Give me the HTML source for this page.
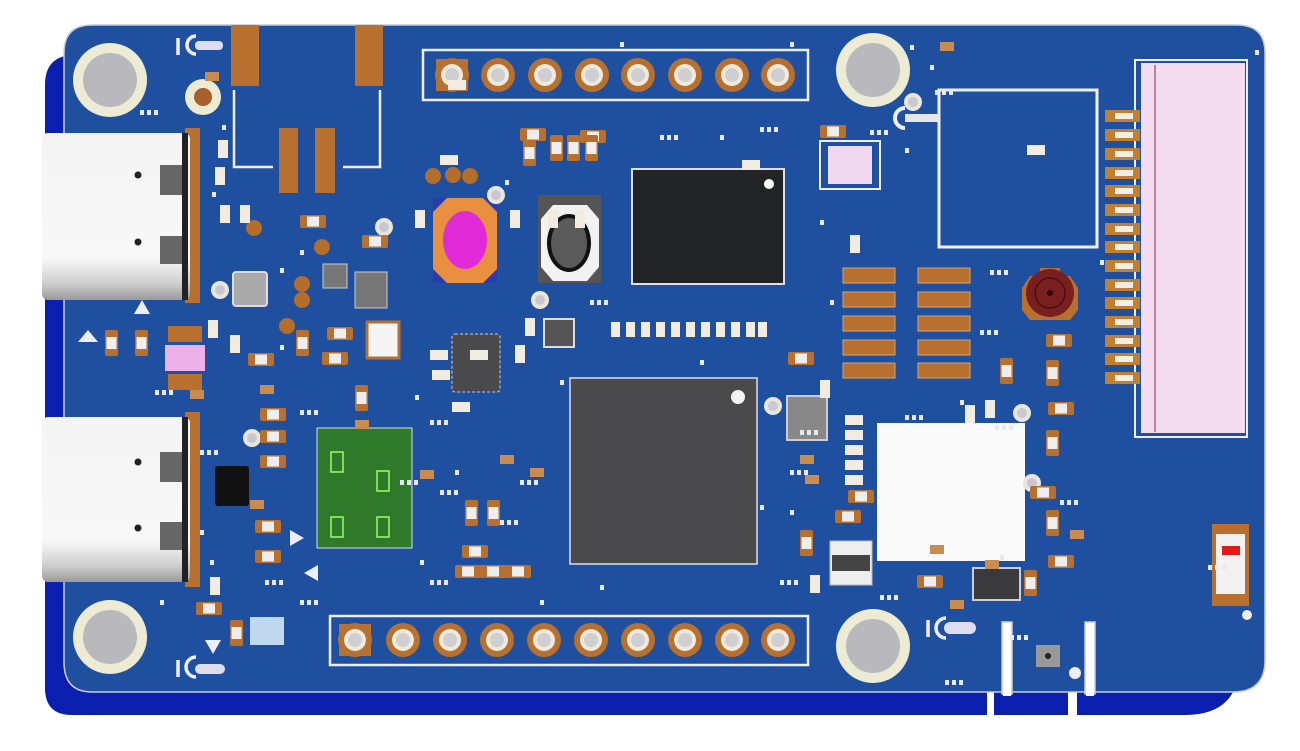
<!DOCTYPE html>
<html><head><meta charset="utf-8"><style>html,body{margin:0;padding:0;background:#fff;width:1300px;height:751px;overflow:hidden}</style></head>
<body>
<svg width="1300" height="751" viewBox="0 0 1300 751" xmlns="http://www.w3.org/2000/svg">
<defs>
<g id="r"><rect x="0" y="0" width="26" height="13" rx="2" fill="#b8702e"/><rect x="7" y="1.5" width="12" height="10" fill="#eee"/></g>
<g id="rv"><rect x="0" y="0" width="13" height="26" rx="2" fill="#b8702e"/><rect x="1.5" y="7" width="10" height="12" fill="#eee"/></g>
<g id="c"><rect x="0" y="0" width="10" height="18" fill="#f1ebe0"/></g>
<g id="ch"><rect x="0" y="0" width="18" height="10" fill="#f1ebe0"/></g>
<g id="b"><rect x="0" y="0" width="14" height="9" fill="#c98b4e"/></g>
<g id="d"><rect x="0" y="0" width="4" height="5" fill="#e8e8f0"/></g>
<g id="dd"><rect x="0" y="0" width="4" height="5" fill="#e8e8f0"/><rect x="7" y="0" width="4" height="5" fill="#e8e8f0"/><rect x="14" y="0" width="4" height="5" fill="#e8e8f0"/></g>
<g id="via"><circle cx="0" cy="0" r="9" fill="#e9e6dc"/><circle cx="0" cy="0" r="5" fill="#c8c8d0"/></g>
<g id="bv"><circle cx="0" cy="0" r="8" fill="#b56d2a"/></g>
<g id="pin"><circle cx="0" cy="0" r="17" fill="#b8702e"/><circle cx="0" cy="0" r="11" fill="#efeadc"/><circle cx="0" cy="0" r="7" fill="#cfcfd2"/></g>
<g id="hole"><circle cx="0" cy="0" r="37" fill="#eeebd4"/><circle cx="0" cy="0" r="27" fill="#b9b9bd"/></g>
<linearGradient id="usb" x1="0" y1="0" x2="0" y2="1"><stop offset="0" stop-color="#f4f4f4"/><stop offset="0.75" stop-color="#f8f8f8"/><stop offset="0.9" stop-color="#cfcfcf"/><stop offset="1" stop-color="#9a9a9a"/></linearGradient>
</defs>

<!-- shadow -->
<path d="M75 55 H1240 V660 Q1240 715 1185 715 H72 Q45 715 45 688 V85 Q45 55 75 55 Z" fill="#0a1fb0"/>
<rect x="987" y="690" width="7" height="30" fill="#fff"/>
<rect x="1068" y="690" width="9" height="30" fill="#fff"/>
<!-- board -->
<path d="M92 25 H1237 Q1265 25 1265 53 V660 Q1265 692 1233 692 H92 Q64 692 64 662 V53 Q64 25 92 25 Z" fill="#1f50a0" stroke="#c9ccd6" stroke-width="1.5"/>
<rect x="1002" y="622" width="10" height="72" fill="#fff" stroke="#c9ccd6" stroke-width="1.5"/>
<rect x="1085" y="622" width="10" height="72" fill="#fff" stroke="#c9ccd6" stroke-width="1.5"/>
<rect x="1003" y="692" width="8" height="4" fill="#fff"/>
<rect x="1086" y="692" width="8" height="4" fill="#fff"/>

<!-- mount holes -->
<use href="#hole" x="110" y="80"/>
<use href="#hole" x="873" y="70"/>
<use href="#hole" x="110" y="637"/>
<use href="#hole" x="873" y="646"/>
<circle cx="203" cy="97" r="18" fill="#eeebd4"/><circle cx="203" cy="97" r="9" fill="#a8602a"/>

<!-- antenna -->
<rect x="231" y="25" width="28" height="61" fill="#b8702e"/>
<rect x="355" y="25" width="28" height="61" fill="#b8702e"/>
<rect x="279" y="128" width="19" height="65" fill="#b8702e"/>
<rect x="315" y="128" width="20" height="65" fill="#b8702e"/>
<path d="M234 90 V167 H273 M380 90 V167 H343" fill="none" stroke="#eef" stroke-width="2.5"/>

<!-- USB C -->
<rect x="185" y="128" width="15" height="175" fill="#b8702e"/>
<rect x="42" y="133" width="148" height="167" rx="6" fill="url(#usb)"/>
<rect x="182" y="133" width="6" height="167" fill="#222"/>
<rect x="160" y="165" width="22" height="30" fill="#666"/><rect x="160" y="236" width="22" height="28" fill="#666"/>
<circle cx="138" cy="175" r="3.5" fill="#222"/><circle cx="138" cy="242" r="3.5" fill="#222"/>
<rect x="185" y="412" width="15" height="175" fill="#b8702e"/>
<rect x="42" y="417" width="148" height="165" rx="6" fill="url(#usb)"/>
<rect x="182" y="417" width="6" height="165" fill="#222"/>
<rect x="160" y="452" width="22" height="30" fill="#666"/><rect x="160" y="522" width="22" height="28" fill="#666"/>
<circle cx="138" cy="462" r="3.5" fill="#222"/><circle cx="138" cy="528" r="3.5" fill="#222"/>

<!-- headers -->
<rect x="423" y="50" width="385" height="50" fill="none" stroke="#eef" stroke-width="2.5"/>
<rect x="436" y="59" width="32" height="32" fill="#b8702e"/>
<use href="#pin" x="452" y="75"/><use href="#pin" x="498" y="75"/><use href="#pin" x="545" y="75"/><use href="#pin" x="592" y="75"/><use href="#pin" x="638" y="75"/><use href="#pin" x="685" y="75"/><use href="#pin" x="732" y="75"/><use href="#pin" x="778" y="75"/>
<rect x="330" y="616" width="478" height="49" fill="none" stroke="#eef" stroke-width="2.5"/>
<rect x="339" y="624" width="32" height="32" fill="#b8702e"/>
<use href="#pin" x="355" y="640"/><use href="#pin" x="403" y="640"/><use href="#pin" x="450" y="640"/><use href="#pin" x="497" y="640"/><use href="#pin" x="544" y="640"/><use href="#pin" x="591" y="640"/><use href="#pin" x="638" y="640"/><use href="#pin" x="685" y="640"/><use href="#pin" x="732" y="640"/><use href="#pin" x="778" y="640"/>

<!-- chips -->
<rect x="632" y="169" width="152" height="115" fill="#232425" stroke="#dde" stroke-width="2"/>
<circle cx="769" cy="184" r="5" fill="#fff"/>
<rect x="570" y="378" width="187" height="186" fill="#4a4a4c" stroke="#dde" stroke-width="1.5"/>
<circle cx="738" cy="397" r="7" fill="#f4f4f4"/>
<rect x="939" y="90" width="158" height="157" fill="#1f50a0" stroke="#eef" stroke-width="3"/>
<path d="M940 118 H905" stroke="#e6e6ea" stroke-width="8"/>
<path d="M905 108 a10 10 0 0 0 0 20" fill="none" stroke="#eef" stroke-width="4"/>
<rect x="877" y="423" width="148" height="138" fill="#fafafa"/>
<rect x="317" y="428" width="95" height="120" fill="#2f7a2a" stroke="#dde" stroke-width="1"/>
<rect x="331" y="452" width="12" height="20" fill="none" stroke="#9f6" stroke-width="1.5"/>
<rect x="377" y="471" width="12" height="20" fill="none" stroke="#9f6" stroke-width="1.5"/>
<rect x="331" y="517" width="12" height="20" fill="none" stroke="#9f6" stroke-width="1.5"/>
<rect x="377" y="517" width="12" height="20" fill="none" stroke="#9f6" stroke-width="1.5"/>
<rect x="452" y="334" width="48" height="58" rx="3" fill="#4a4a4c" stroke="#ccd" stroke-width="1" stroke-dasharray="3 2"/>
<rect x="215" y="466" width="34" height="40" rx="3" fill="#111"/>
<rect x="544" y="319" width="30" height="28" fill="#555" stroke="#ddd" stroke-width="2"/>
<rect x="787" y="396" width="40" height="44" fill="#888" stroke="#ccd" stroke-width="2"/>
<rect x="973" y="568" width="47" height="32" fill="#3a3a3c" stroke="#ccd" stroke-width="2"/>
<rect x="830" y="541" width="42" height="44" fill="#eee" stroke="#bbb" stroke-width="1"/><rect x="832" y="555" width="38" height="16" fill="#444"/>

<!-- buttons -->
<rect x="433" y="198" width="64" height="85" fill="#e99040"/>
<path d="M433 198 h14 l-14 14z M497 198 h-14 l14 14z M433 283 h14 l-14 -14z M497 283 h-14 l14 -14z" fill="#2a3ab0"/>
<ellipse cx="465" cy="240" rx="22" ry="29" fill="#e02ad8"/>
<rect x="538" y="195" width="63" height="88" fill="#555"/>
<path d="M553 205 h34 l12 14 v48 l-12 14 h-34 l-12 -14 v-48z" fill="#f2f2f2"/>
<ellipse cx="569" cy="243" rx="22" ry="29" fill="#111"/><ellipse cx="569" cy="243" rx="18" ry="25" fill="#5a5a5a"/>

<!-- pads rows -->
<g fill="#f1ebe0"><rect x="611" y="322" width="9" height="15"/><rect x="626" y="322" width="9" height="15"/><rect x="641" y="322" width="9" height="15"/><rect x="656" y="322" width="9" height="15"/><rect x="671" y="322" width="9" height="15"/><rect x="686" y="322" width="9" height="15"/><rect x="701" y="322" width="9" height="15"/><rect x="716" y="322" width="9" height="15"/><rect x="731" y="322" width="9" height="15"/><rect x="746" y="322" width="9" height="15"/><rect x="758" y="322" width="9" height="15"/></g>
<g fill="#b8702e" stroke="#d9a46c" stroke-width="1"><rect x="843" y="268" width="52" height="15"/><rect x="843" y="292" width="52" height="15"/><rect x="843" y="316" width="52" height="15"/><rect x="843" y="340" width="52" height="15"/><rect x="843" y="363" width="52" height="15"/>
<rect x="918" y="268" width="52" height="15"/><rect x="918" y="292" width="52" height="15"/><rect x="918" y="316" width="52" height="15"/><rect x="918" y="340" width="52" height="15"/><rect x="918" y="363" width="52" height="15"/></g>

<!-- pink small chips -->
<rect x="820" y="141" width="60" height="48" fill="#1f50a0" stroke="#eef" stroke-width="2"/><rect x="828" y="146" width="44" height="38" fill="#f0d8f0"/>
<rect x="165" y="345" width="40" height="26" fill="#eeb0e8"/>
<rect x="168" y="326" width="34" height="16" fill="#b8702e"/><rect x="168" y="374" width="34" height="16" fill="#b8702e"/>
<rect x="250" y="617" width="34" height="28" fill="#c0d8ee"/>

<!-- antenna connector -->
<path d="M1040 268 h20 v8 h10 l8 12 v22 l-8 10 h-40 l-8 -10 v-22 l8 -12 h10z" fill="#b8702e"/>
<circle cx="1050" cy="293" r="24" fill="#7a1f1f"/><circle cx="1050" cy="293" r="15" fill="none" stroke="#4a0f0f" stroke-width="1.5"/><circle cx="1050" cy="293" r="3" fill="#300"/>

<!-- FPC -->
<rect x="1135" y="60" width="112" height="377" fill="#1f50a0" stroke="#eef" stroke-width="2"/>
<rect x="1141" y="63" width="104" height="370" fill="#f3dcf0"/>
<path d="M1155 65 V432" stroke="#7a2a5a" stroke-width="1"/>
<g fill="#c08030"><rect x="1105" y="110" width="35" height="12"/><rect x="1105" y="129" width="35" height="12"/><rect x="1105" y="148" width="35" height="12"/><rect x="1105" y="167" width="35" height="12"/><rect x="1105" y="185" width="35" height="12"/><rect x="1105" y="204" width="35" height="12"/><rect x="1105" y="223" width="35" height="12"/><rect x="1105" y="241" width="35" height="12"/><rect x="1105" y="260" width="35" height="12"/><rect x="1105" y="279" width="35" height="12"/><rect x="1105" y="297" width="35" height="12"/><rect x="1105" y="316" width="35" height="12"/><rect x="1105" y="335" width="35" height="12"/><rect x="1105" y="353" width="35" height="12"/><rect x="1105" y="372" width="35" height="12"/></g>
<g fill="#f2eee6"><rect x="1115" y="113" width="18" height="6"/><rect x="1115" y="132" width="18" height="6"/><rect x="1115" y="151" width="18" height="6"/><rect x="1115" y="170" width="18" height="6"/><rect x="1115" y="188" width="18" height="6"/><rect x="1115" y="207" width="18" height="6"/><rect x="1115" y="226" width="18" height="6"/><rect x="1115" y="244" width="18" height="6"/><rect x="1115" y="263" width="18" height="6"/><rect x="1115" y="282" width="18" height="6"/><rect x="1115" y="300" width="18" height="6"/><rect x="1115" y="319" width="18" height="6"/><rect x="1115" y="338" width="18" height="6"/><rect x="1115" y="356" width="18" height="6"/><rect x="1115" y="375" width="18" height="6"/></g>

<!-- LED bottom right -->
<rect x="1212" y="524" width="37" height="82" fill="#b8702e"/>
<rect x="1216" y="534" width="29" height="60" fill="#f2f2f2"/>
<rect x="1222" y="546" width="18" height="9" fill="#e21a1a"/>
<circle cx="1247" cy="615" r="5" fill="#eee"/>
<rect x="1036" y="645" width="24" height="22" fill="#999"/><circle cx="1048" cy="656" r="3" fill="#222"/>
<circle cx="1075" cy="673" r="6" fill="#eee"/>

<!-- logos -->
<path d="M178 38 v17 M196 36 a9 9 0 0 0 0 18" fill="none" stroke="#eef" stroke-width="3.5"/><rect x="195" y="41" width="28" height="9" rx="4" fill="#dde"/>
<path d="M178 660 v17 M196 657 a9 9 0 0 0 0 20" fill="none" stroke="#eef" stroke-width="3.5"/><rect x="195" y="664" width="30" height="10" rx="5" fill="#dde"/>
<path d="M928 620 v17 M946 618 a10 10 0 0 0 0 20" fill="none" stroke="#eef" stroke-width="3.5"/><rect x="944" y="622" width="32" height="12" rx="6" fill="#dde"/>
<path d="M142 300 l-8 14 h16z M290 530 l14 8 -14 8z M318 565 l-14 8 14 8z M88 330 l-10 12 h20z M205 640 l8 14 8-14z" fill="#eef"/>

<!-- misc components -->
<rect x="233" y="272" width="34" height="34" rx="3" fill="#aaa" stroke="#ddd" stroke-width="2"/>
<rect x="323" y="264" width="24" height="24" fill="#777" stroke="#ccc"/>
<rect x="355" y="272" width="32" height="36" fill="#777" stroke="#ccc"/>
<rect x="367" y="322" width="32" height="36" fill="#f5f5f5" stroke="#b8702e" stroke-width="3"/>
<use href="#bv" x="254" y="228"/><use href="#bv" x="322" y="247"/><use href="#bv" x="302" y="284"/><use href="#bv" x="302" y="300"/><use href="#bv" x="287" y="326"/><use href="#bv" x="433" y="176"/><use href="#bv" x="453" y="175"/><use href="#bv" x="470" y="176"/>
<use href="#via" x="220" y="290"/><use href="#via" x="384" y="227"/><use href="#via" x="496" y="195"/><use href="#via" x="540" y="300"/><use href="#via" x="773" y="406"/><use href="#via" x="1022" y="413"/><use href="#via" x="1032" y="483"/><use href="#via" x="913" y="102"/><use href="#via" x="252" y="438"/>
<use href="#r" x="300" y="215"/><use href="#r" x="362" y="235"/><use href="#r" x="248" y="353"/><use href="#r" x="322" y="352"/><use href="#r" x="327" y="327"/><use href="#r" x="260" y="408"/><use href="#r" x="260" y="430"/><use href="#r" x="260" y="455"/><use href="#r" x="255" y="520"/><use href="#r" x="255" y="550"/><use href="#r" x="462" y="545"/><use href="#r" x="455" y="565"/><use href="#r" x="480" y="565"/><use href="#r" x="505" y="565"/><use href="#r" x="520" y="128"/><use href="#r" x="580" y="130"/><use href="#r" x="848" y="490"/><use href="#r" x="835" y="510"/><use href="#r" x="788" y="352"/><use href="#r" x="917" y="575"/><use href="#r" x="1046" y="334"/><use href="#r" x="1048" y="402"/><use href="#r" x="1030" y="486"/><use href="#r" x="1048" y="555"/><use href="#r" x="196" y="602"/><use href="#r" x="820" y="125"/>
<use href="#rv" x="523" y="140"/><use href="#rv" x="550" y="135"/><use href="#rv" x="567" y="135"/><use href="#rv" x="585" y="135"/><use href="#rv" x="105" y="330"/><use href="#rv" x="135" y="330"/><use href="#rv" x="355" y="385"/><use href="#rv" x="1046" y="360"/><use href="#rv" x="1046" y="430"/><use href="#rv" x="1046" y="510"/><use href="#rv" x="1024" y="570"/><use href="#rv" x="230" y="620"/><use href="#rv" x="465" y="500"/><use href="#rv" x="487" y="500"/><use href="#rv" x="296" y="330"/><use href="#rv" x="800" y="530"/><use href="#rv" x="1000" y="358"/>
<use href="#c" x="220" y="205"/><use href="#c" x="240" y="205"/><use href="#c" x="215" y="167"/><use href="#c" x="218" y="140"/><use href="#c" x="548" y="210"/><use href="#c" x="575" y="210"/><use href="#c" x="510" y="210"/><use href="#c" x="525" y="318"/><use href="#c" x="515" y="345"/><use href="#c" x="850" y="235"/><use href="#c" x="965" y="405"/><use href="#c" x="985" y="400"/><use href="#c" x="810" y="575"/><use href="#c" x="210" y="577"/><use href="#c" x="208" y="320"/><use href="#c" x="230" y="335"/><use href="#c" x="415" y="210"/><use href="#c" x="820" y="380"/>
<use href="#ch" x="430" y="350"/><use href="#ch" x="432" y="370"/><use href="#ch" x="452" y="402"/><use href="#ch" x="845" y="415"/><use href="#ch" x="845" y="430"/><use href="#ch" x="845" y="445"/><use href="#ch" x="845" y="460"/><use href="#ch" x="845" y="475"/><use href="#ch" x="440" y="155"/><use href="#ch" x="448" y="80"/><use href="#ch" x="742" y="160"/><use href="#ch" x="1027" y="145"/><use href="#ch" x="470" y="350"/>
<use href="#b" x="940" y="42"/><use href="#b" x="205" y="72"/><use href="#b" x="355" y="420"/><use href="#b" x="420" y="470"/><use href="#b" x="530" y="468"/><use href="#b" x="500" y="455"/><use href="#b" x="800" y="455"/><use href="#b" x="805" y="475"/><use href="#b" x="930" y="545"/><use href="#b" x="950" y="600"/><use href="#b" x="250" y="500"/><use href="#b" x="260" y="385"/><use href="#b" x="190" y="390"/><use href="#b" x="985" y="560"/><use href="#b" x="1070" y="530"/>
<use href="#dd" x="140" y="110"/><use href="#dd" x="660" y="135"/><use href="#dd" x="760" y="127"/><use href="#dd" x="935" y="90"/><use href="#dd" x="200" y="450"/><use href="#dd" x="430" y="420"/><use href="#dd" x="440" y="490"/><use href="#dd" x="500" y="520"/><use href="#dd" x="520" y="480"/><use href="#dd" x="790" y="470"/><use href="#dd" x="780" y="580"/><use href="#dd" x="880" y="595"/><use href="#dd" x="905" y="415"/><use href="#dd" x="1060" y="500"/><use href="#dd" x="1010" y="635"/><use href="#dd" x="945" y="680"/><use href="#dd" x="265" y="580"/><use href="#dd" x="300" y="600"/><use href="#dd" x="430" y="580"/><use href="#dd" x="995" y="425"/><use href="#dd" x="800" y="430"/><use href="#dd" x="590" y="300"/><use href="#dd" x="300" y="410"/><use href="#dd" x="400" y="480"/><use href="#dd" x="155" y="390"/><use href="#dd" x="980" y="330"/><use href="#dd" x="990" y="270"/><use href="#dd" x="870" y="130"/><use href="#dd" x="1208" y="565"/>
<use href="#d" x="620" y="42"/><use href="#d" x="790" y="42"/><use href="#d" x="910" y="45"/><use href="#d" x="930" y="65"/><use href="#d" x="212" y="192"/><use href="#d" x="222" y="125"/><use href="#d" x="505" y="180"/><use href="#d" x="720" y="135"/><use href="#d" x="820" y="220"/><use href="#d" x="905" y="148"/><use href="#d" x="830" y="300"/><use href="#d" x="700" y="360"/><use href="#d" x="560" y="380"/><use href="#d" x="760" y="505"/><use href="#d" x="790" y="510"/><use href="#d" x="600" y="585"/><use href="#d" x="540" y="600"/><use href="#d" x="210" y="560"/><use href="#d" x="160" y="600"/><use href="#d" x="200" y="530"/><use href="#d" x="300" y="250"/><use href="#d" x="280" y="268"/><use href="#d" x="280" y="345"/><use href="#d" x="415" y="395"/><use href="#d" x="455" y="470"/><use href="#d" x="420" y="560"/><use href="#d" x="1255" y="50"/><use href="#d" x="1000" y="555"/><use href="#d" x="960" y="400"/><use href="#d" x="1100" y="260"/>
</svg>
</body></html>
